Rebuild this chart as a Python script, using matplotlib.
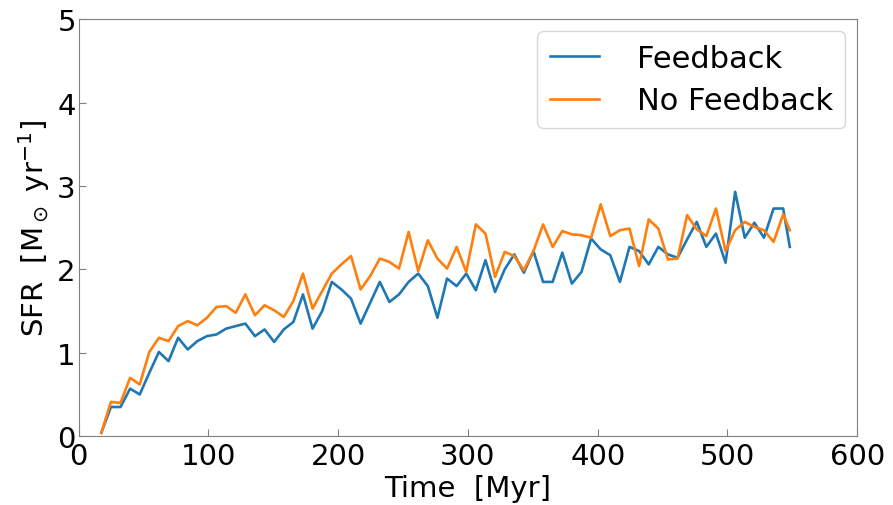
import numpy as np
import matplotlib.pyplot as plt

# simulation snapshot times [Myr]
time = [17.5, 24.9, 32.3, 39.7, 47.1, 54.5, 61.9, 69.3, 76.7, 84.1,
        91.5, 98.9, 106.3, 113.7, 121.1, 128.5, 135.9, 143.3, 150.7, 158.1,
        165.5, 172.9, 180.3, 187.7, 195.1, 202.5, 209.9, 217.3, 224.7, 232.1,
        239.5, 246.9, 254.3, 261.7, 269.1, 276.5, 283.9, 291.3, 298.7, 306.1,
        313.5, 320.9, 328.3, 335.7, 343.1, 350.5, 357.9, 365.3, 372.7, 380.1,
        387.5, 394.9, 402.3, 409.7, 417.1, 424.5, 431.9, 439.3, 446.7, 454.1,
        461.5, 468.9, 476.3, 483.7, 491.1, 498.5, 505.9, 513.3, 520.7, 528.1,
        535.5, 542.9, 548.0]

sfr_feedback = [0.04, 0.35, 0.35, 0.57, 0.50, 0.76, 1.01, 0.90, 1.18, 1.04,
                1.14, 1.20, 1.22, 1.29, 1.32, 1.35, 1.20, 1.28, 1.13, 1.28,
                1.37, 1.70, 1.29, 1.50, 1.85, 1.76, 1.65, 1.35, 1.60, 1.85,
                1.61, 1.70, 1.85, 1.95, 1.80, 1.42, 1.89, 1.80, 1.95, 1.75,
                2.11, 1.73, 2.00, 2.18, 1.96, 2.22, 1.85, 1.85, 2.20, 1.83,
                1.97, 2.37, 2.24, 2.17, 1.85, 2.27, 2.22, 2.06, 2.27, 2.18,
                2.14, 2.36, 2.57, 2.27, 2.43, 2.08, 2.93, 2.38, 2.56, 2.38,
                2.73, 2.73, 2.27]

sfr_no_feedback = [0.04, 0.41, 0.40, 0.70, 0.62, 1.01, 1.18, 1.14, 1.32, 1.38,
                   1.33, 1.42, 1.55, 1.56, 1.48, 1.70, 1.45, 1.57, 1.51, 1.43,
                   1.62, 1.95, 1.53, 1.74, 1.95, 2.06, 2.16, 1.76, 1.92, 2.13,
                   2.09, 2.01, 2.45, 1.98, 2.35, 2.13, 2.01, 2.27, 1.97, 2.54,
                   2.43, 1.91, 2.21, 2.16, 1.99, 2.22, 2.54, 2.27, 2.46, 2.42,
                   2.41, 2.38, 2.78, 2.40, 2.47, 2.49, 2.04, 2.60, 2.49, 2.12,
                   2.13, 2.65, 2.48, 2.40, 2.73, 2.22, 2.47, 2.57, 2.51, 2.47,
                   2.33, 2.66, 2.47]

fig = plt.figure(figsize=(8.93, 5.06), dpi=100)
ax = fig.add_axes([0.088, 0.136, 0.872, 0.824])

ax.plot(time, sfr_feedback, color="#1f77b4", lw=1.9, label="Feedback")
ax.plot(time, sfr_no_feedback, color="#ff7f0e", lw=1.9, label="No Feedback")

ax.set_xlim(0, 600)
ax.set_ylim(0, 5)
ax.set_xticks(np.arange(0, 601, 100))
ax.set_yticks(np.arange(0, 6, 1))

for s in ax.spines.values():
    s.set_color("#808080")
ax.tick_params(direction="in", length=5, color="#808080", labelsize=21)
ax.tick_params(axis="x", pad=4)
ax.tick_params(axis="y", pad=2)

ax.set_xlabel("Time  [Myr]", fontsize=21, labelpad=3)
ax.set_ylabel(r"SFR  [M$_\odot$ yr$^{-1}$]", fontsize=21, labelpad=4)

ax.legend(loc="upper right", fontsize=22, handlelength=1.6, borderpad=0.4,
          labelspacing=0.45, handletextpad=1.25, borderaxespad=0.4)

fig.savefig("out.png", dpi=100)
